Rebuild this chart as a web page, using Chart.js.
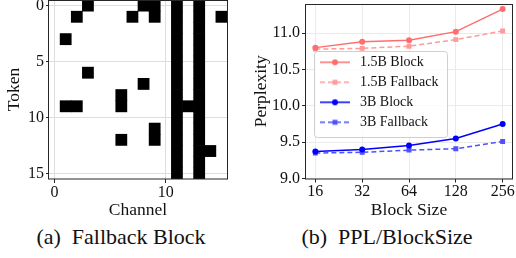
<!DOCTYPE html>
<html>
<head>
<meta charset="utf-8">
<script src="https://cdn.jsdelivr.net/npm/chart.js@4.4.0/dist/chart.umd.min.js"></script>
<style>
  body { margin: 0; width: 516px; height: 258px; background: #fff; overflow: hidden; font-family: 'Liberation Serif', serif; }
  .pane { position: absolute; top: 0; height: 222px; }
  .caption { position: absolute; top: 224px; font-size: 22px; line-height: 26px; color: #111; white-space: pre; transform: translateX(-50%); }
</style>
</head>
<body>
<div class="pane" style="left:0;width:240px"><canvas id="blockMap"></canvas></div>
<div class="pane" style="left:240px;width:276px"><canvas id="pplChart"></canvas></div>
<div class="caption" style="left:121px">(a)  Fallback Block</div>
<div class="caption" style="left:387px">(b)  PPL/BlockSize</div>

<script>
// ── (a) carte des canaux de repli : colonnes noires par token ──
const fallbackCols = [
  [3, 8, 9, 11, 13],
  [2, 7, 9, 11, 13, 15],
  [11, 13],
  [1, 11, 13],
  [11, 13],
  [11, 13],
  [3, 11, 13],
  [8, 11, 13],
  [6, 11, 13],
  [1, 2, 6, 11, 12, 13],
  [11, 13],
  [9, 11, 13],
  [6, 9, 11, 13],
  [11, 13, 14],
  [11, 13],
  [11, 13],
];
const mapXTicks = [0, 10];
const mapYTicks = [0, 5, 10, 15];

// ── (b) perplexité selon la taille de bloc ──
const blockSizes = ['16', '32', '64', '128', '256'];
const ppl15Block = [10.80, 10.88, 10.90, 11.02, 11.33];
const ppl15Fallback = [10.78, 10.79, 10.82, 10.91, 11.03];
const ppl3Block = [9.37, 9.40, 9.455, 9.55, 9.75];
const ppl3Fallback = [9.35, 9.36, 9.39, 9.41, 9.51];
const pplTicks = [9.0, 9.5, 10.0, 10.5, 11.0];

const SPINE = '#262626';
const TXT = '#111';
Chart.defaults.font.family = "'Liberation Serif', serif";
Chart.defaults.color = TXT;
Chart.defaults.animation = false;

// pas de marge automatique pour les étiquettes qui débordent
const noPadY = s => { s.paddingTop = 0; s.paddingBottom = 0; };
const noPadX = s => { s.paddingLeft = 0; s.paddingRight = 0; };

// cadre complet autour de la zone de tracé (style matplotlib)
const framePlugin = {
  id: 'frame',
  afterDraw(chart) {
    const { ctx, chartArea: a } = chart;
    ctx.save();
    ctx.strokeStyle = SPINE;
    ctx.lineWidth = 1;
    ctx.strokeRect(Math.round(a.left) - 0.5, Math.round(a.top) + 0.5,
      Math.round(a.right - a.left) + 1, Math.round(a.bottom - a.top) - 0.5);
    ctx.restore();
  }
};

// ── Heatmap (barres flottantes d'une case) ──
const cells = [];
fallbackCols.forEach((cols, row) => {
  cols.forEach(col => cells.push({ x: col, y: [row - 0.5, row + 0.5] }));
});

new Chart(document.getElementById('blockMap'), {
  type: 'bar',
  data: {
    datasets: [{
      data: cells,
      backgroundColor: '#000',
      borderWidth: 0,
      barPercentage: 1,
      categoryPercentage: 1,
    }]
  },
  options: {
    responsive: true,
    maintainAspectRatio: false,
    layout: { padding: { left: 0, right: 13, top: 0, bottom: 0 } },
    plugins: { legend: { display: false }, tooltip: { enabled: false } },
    scales: {
      x: {
        type: 'linear', min: -0.5, max: 15.5, offset: false,
        afterBuildTicks: s => { s.ticks = mapXTicks.map(v => ({ value: v })); },
        afterFit: s => { s.height = 43; noPadX(s); },
        grid: { color: '#dedede', tickColor: SPINE, tickLength: 4, offset: false },
        border: { display: false },
        ticks: { font: { size: 16 }, padding: 0, maxRotation: 0, autoSkip: false },
        title: { display: true, text: 'Channel', font: { size: 17.5 }, padding: { top: 0, bottom: 1 } }
      },
      y: {
        type: 'linear', reverse: true, min: -0.5, max: 15.5,
        afterBuildTicks: s => { s.ticks = mapYTicks.map(v => ({ value: v })); },
        afterFit: s => { s.width = 49; noPadY(s); },
        grid: { color: '#dedede', tickColor: SPINE, tickLength: 3 },
        border: { display: false },
        ticks: { font: { size: 16 }, padding: 2, autoSkip: false },
        title: { display: true, text: 'Token', font: { size: 17.5 }, padding: { top: 4, bottom: 0 } }
      }
    }
  },
  plugins: [framePlugin]
});

// ── Courbes de perplexité ──
const series = [
  { label: '1.5B Block', data: ppl15Block, color: '#ff6e6e', dash: [], style: 'circle' },
  { label: '1.5B Fallback', data: ppl15Fallback, color: '#ff9a9a', dash: [5, 3], style: 'rect' },
  { label: '3B Block', data: ppl3Block, color: '#0000ff', dash: [], style: 'circle' },
  { label: '3B Fallback', data: ppl3Fallback, color: '#5050ff', dash: [5, 3], style: 'rect' },
];

function legendSample(s) {
  const c = document.createElement('canvas');
  c.width = 30; c.height = 10;
  const g = c.getContext('2d');
  g.strokeStyle = s.color; g.fillStyle = s.color; g.lineWidth = 1.5;
  g.setLineDash(s.dash);
  g.beginPath(); g.moveTo(0, 5); g.lineTo(30, 5); g.stroke();
  g.setLineDash([]);
  Chart.helpers.drawPoint(g, { pointStyle: s.style, radius: s.style === 'rect' ? 3.5 : 3, borderWidth: 0, rotation: 0 }, 15, 5);
  return c;
}
const samples = series.map(legendSample);

// légende placée dans la zone de tracé, avec un cadre
const legendBox = {
  id: 'legendBox',
  afterLayout(chart) {
    const leg = chart.legend, a = chart.chartArea;
    leg.left = a.left + 5;
    leg.top = a.top + 45.3;
    if (!leg._framed) {
      const draw = leg.draw;
      leg.draw = function () {
        const ctx = this.ctx, ca = chart.chartArea;
        const x = ca.left + 8.5, y = ca.top + 47.5, w = 133, h = 86;
        ctx.save();
        ctx.beginPath();
        ctx.roundRect(x, y, w, h, 3);
        ctx.fillStyle = 'rgba(255,255,255,0.8)';
        ctx.fill();
        ctx.strokeStyle = '#cfcfcf';
        ctx.lineWidth = 1;
        ctx.stroke();
        ctx.restore();
        draw.apply(this, arguments);
      };
      leg._framed = true;
    }
  }
};

new Chart(document.getElementById('pplChart'), {
  type: 'line',
  data: {
    datasets: series.map(s => ({
      label: s.label,
      data: s.data.map((v, i) => ({ x: i, y: v })),
      borderColor: s.color,
      backgroundColor: s.color,
      borderWidth: 1.5,
      borderDash: s.dash,
      pointStyle: s.style,
      pointRadius: s.style === 'rect' ? 3.5 : 3,
      pointBorderWidth: 0,
      pointBackgroundColor: s.color,
      tension: 0,
    }))
  },
  options: {
    responsive: true,
    maintainAspectRatio: false,
    layout: { padding: { left: 0, right: 4, top: 0, bottom: 0 } },
    plugins: {
      tooltip: { enabled: false },
      legend: {
        position: 'chartArea',
        align: 'start',
        labels: {
          usePointStyle: true,
          pointStyleWidth: 36,
          padding: 6,
          color: TXT,
          font: { size: 14 },
          generateLabels: chart => Chart.defaults.plugins.legend.labels.generateLabels(chart)
            .map((it, i) => ({ ...it, pointStyle: samples[i] }))
        }
      }
    },
    scales: {
      x: {
        type: 'linear', min: -0.2, max: 4.2,
        afterBuildTicks: s => { s.ticks = blockSizes.map((_, i) => ({ value: i })); },
        afterFit: s => { s.height = 43.5; noPadX(s); },
        grid: { color: '#ebebeb', tickColor: SPINE, tickLength: 4, z: -1 },
        border: { display: false },
        ticks: { font: { size: 16 }, padding: 0, maxRotation: 0, autoSkip: false,
          callback: v => blockSizes[v] },
        title: { display: true, text: 'Block Size', font: { size: 17.5 }, padding: { top: 0, bottom: 1 } }
      },
      y: {
        type: 'linear', min: 9.0, max: 11.4,
        afterBuildTicks: s => { s.ticks = pplTicks.map(v => ({ value: v })); },
        afterFit: s => { s.width = 66; noPadY(s); },
        grid: { color: '#ebebeb', tickColor: SPINE, tickLength: 4, z: -1 },
        border: { display: false },
        ticks: { font: { size: 16 }, padding: 2, autoSkip: false,
          callback: v => v.toFixed(1) },
        title: { display: true, text: 'Perplexity', font: { size: 17.5 }, padding: { top: 11, bottom: 0 } }
      }
    }
  },
  plugins: [framePlugin, legendBox]
});
</script>
</body>
</html>
